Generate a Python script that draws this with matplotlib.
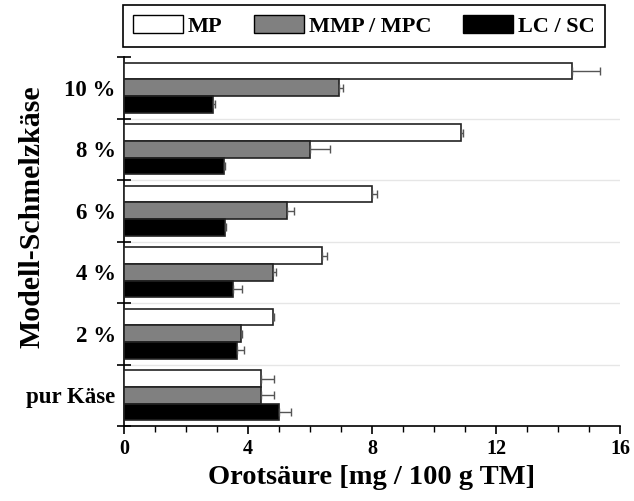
import matplotlib
matplotlib.use("Agg")
import matplotlib.pyplot as plt
import numpy as np
from matplotlib.patches import Patch
from matplotlib.ticker import MultipleLocator, FixedLocator

plt.rcParams['font.family'] = ['Liberation Serif', 'DejaVu Serif']
plt.rcParams['font.weight'] = 'bold'

categories = ["pur Käse", "2 %", "4 %", "6 %", "8 %", "10 %"]
series = ["MP", "MMP / MPC", "LC / SC"]
mp = [4.43, 4.82, 6.38, 8.01, 10.86, 14.46]
mp_err = [0.41, 0.03, 0.16, 0.15, 0.07, 0.90]
mmp = [4.43, 3.77, 4.82, 5.25, 6.01, 6.95]
mmp_err = [0.41, 0.05, 0.07, 0.23, 0.65, 0.10]
lc = [4.99, 3.65, 3.52, 3.26, 3.22, 2.88]
lc_err = [0.40, 0.21, 0.30, 0.04, 0.03, 0.05]

values = [mp, mmp, lc]
errors = [mp_err, mmp_err, lc_err]
colors = ["white", "#808080", "black"]

W, H = 634, 501
fig = plt.figure(figsize=(W / 100, H / 100), dpi=100)
ax = fig.add_axes([124 / W, 1 - 426 / H, (620 - 124) / W, (426 - 57) / H])

y = np.arange(len(categories))
h = 0.27
offsets = [h, 0.0, -h]
for vals, errs, col, off in zip(values, errors, colors, offsets):
    ax.barh(y + off, vals, height=h, color=col, edgecolor="#222222", linewidth=1.2, zorder=3)
    ax.errorbar(vals, y + off, xerr=[np.zeros(len(errs)), errs], fmt="none",
                ecolor="#555555", elinewidth=1.0, capsize=3, capthick=1.0, zorder=4)

ax.set_xlim(0, 16)
ax.set_ylim(-0.5, 5.5)
ax.xaxis.set_major_locator(MultipleLocator(4))
ax.xaxis.set_minor_locator(MultipleLocator(1))
ax.tick_params(axis="x", which="major", direction="out", length=6, width=1.2,
               labelsize=14.5, pad=3)
ax.tick_params(axis="x", which="minor", direction="out", length=4, width=1.0)

bounds = np.arange(-0.5, 6.0, 1.0)
ax.yaxis.set_major_locator(FixedLocator(bounds))
ax.set_yticklabels([""] * len(bounds))
ax.set_yticks(y, minor=True)
ax.set_yticklabels(categories, minor=True)
ax.tick_params(axis="y", which="major", direction="inout", length=10, width=1.2)
ax.tick_params(axis="y", which="minor", length=0, labelsize=16.5, pad=6)
for b in bounds[1:-1]:
    ax.axhline(b, color="#e6e6e6", linewidth=1.0, zorder=1)

for s in ["top", "right"]:
    ax.spines[s].set_visible(False)
for s in ["left", "bottom"]:
    ax.spines[s].set_linewidth(1.2)

for lbl in ax.get_xticklabels() + ax.get_yticklabels(minor=True):
    lbl.set_fontweight("bold")

ax.set_xlabel("Orotsäure [mg / 100 g TM]", fontsize=20.5, fontweight="bold", labelpad=5)
fig.text(32 / W, 1 - 217 / H, "Modell-Schmelzkäse", rotation=90, ha="center", va="center",
         fontsize=21.5, fontweight="bold")

handles = [Patch(facecolor=c, edgecolor="black", linewidth=1.0) for c in colors]
leg = fig.legend(handles, series, loc="upper left", bbox_to_anchor=(123 / W, 1 - 5 / H),
                 borderaxespad=0, ncol=3, frameon=True, fancybox=False, edgecolor="black",
                 prop={"family": "Liberation Serif", "weight": "bold", "size": 16},
                 handlelength=2.25, handleheight=0.9, columnspacing=1.45, handletextpad=0.2,
                 borderpad=0.45, framealpha=1)
leg.get_frame().set_linewidth(1.2)

fig.savefig("out.png", dpi=100)
